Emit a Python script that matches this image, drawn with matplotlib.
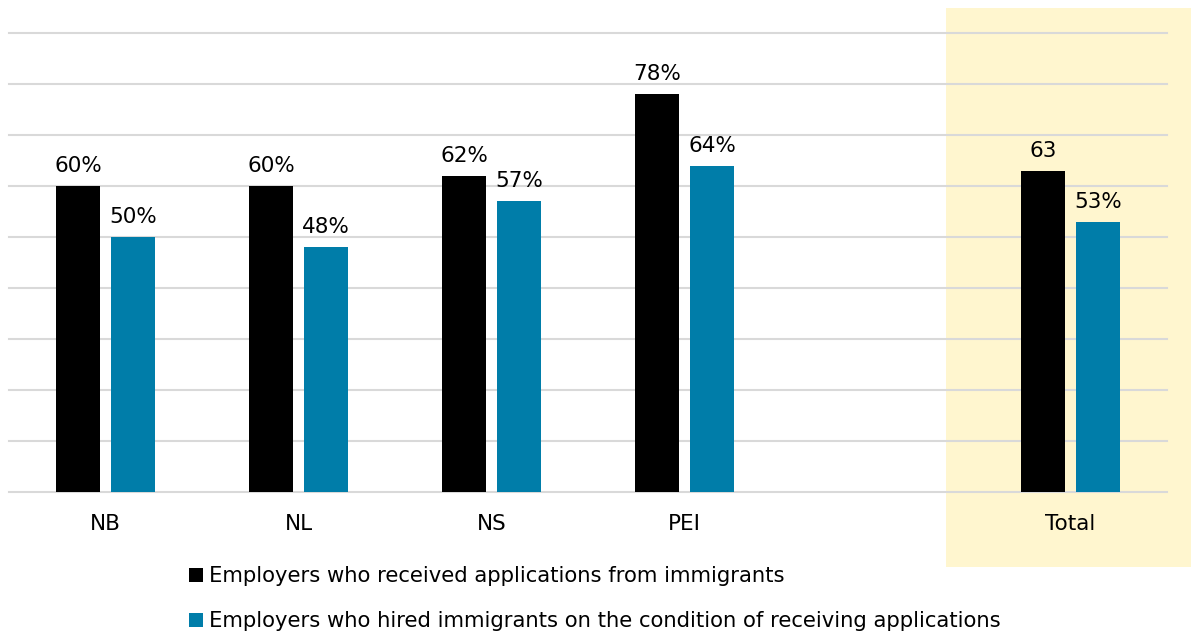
import numpy as np
from matplotlib import pyplot as plt
from matplotlib.patches import Rectangle, Patch

plt.rcParams['font.family'] = ['DejaVu Sans']

categories = ['NB', 'NL', 'NS', 'PEI', 'Total']
slots = [0, 1, 2, 3, 5]  # Total sits apart from the provinces
received = [60, 60, 62, 78, 63]
hired = [50, 48, 57, 64, 53]
received_labels = ['60%', '60%', '62%', '78%', '63']
hired_labels = ['50%', '48%', '57%', '64%', '53%']
series_names = ['Employers who received applications from immigrants',
                'Employers who hired immigrants on the condition of receiving applications']

black = '#000000'
blue = '#007DA9'
fs = 15.5

fig = plt.figure(figsize=(11.91, 6.37), dpi=100)
W, H = 1191, 637

# yellow band behind the Total group
fig.add_artist(Rectangle((946 / W, 1 - 567 / H), 1 - 946 / W, (567 - 8) / H,
                         transform=fig.transFigure, facecolor='#FFF6CF',
                         edgecolor='none', zorder=-1))

ax = fig.add_axes([9 / W, 1 - 492 / H, (1167 - 9) / W, (492 - 33) / H])
ax.patch.set_visible(False)

x = np.array(slots, dtype=float)
w = 0.228
off = 0.1425
b1 = ax.bar(x - off, received, w, color=black, zorder=2)
b2 = ax.bar(x + off, hired, w, color=blue, zorder=2)

for bars, labels in [(b1, received_labels), (b2, hired_labels)]:
    for bar, lab in zip(bars, labels):
        ax.annotate(lab, (bar.get_x() + bar.get_width() / 2, bar.get_height()),
                    xytext=(0, 10), textcoords='offset points',
                    ha='center', va='baseline', fontsize=fs)

ax.set_xlim(-0.5, 5.5)
ax.set_ylim(0, 90)
ax.set_yticks(np.arange(0, 91, 10))
ax.yaxis.grid(True, color='#D9D9D9', linewidth=1.5, zorder=0)
for gl in ax.get_ygridlines():
    gl.set_clip_on(False)
ax.set_axisbelow(True)
ax.tick_params(axis='y', left=False, labelleft=False)
ax.set_xticks(slots)
ax.set_xticklabels(categories, fontsize=fs)
ax.tick_params(axis='x', length=0, pad=16)
for s in ax.spines.values():
    s.set_visible(False)

handles = [Patch(facecolor=black), Patch(facecolor=blue)]
fig.legend(handles, series_names, loc='upper left',
           bbox_to_anchor=(189 / W, 1 - 566 / H), frameon=False,
           fontsize=15.2, handlelength=0.65, handleheight=0.65,
           handletextpad=0.3, labelspacing=1.2, borderpad=0, borderaxespad=0)

fig.savefig('out.png', dpi=100)
